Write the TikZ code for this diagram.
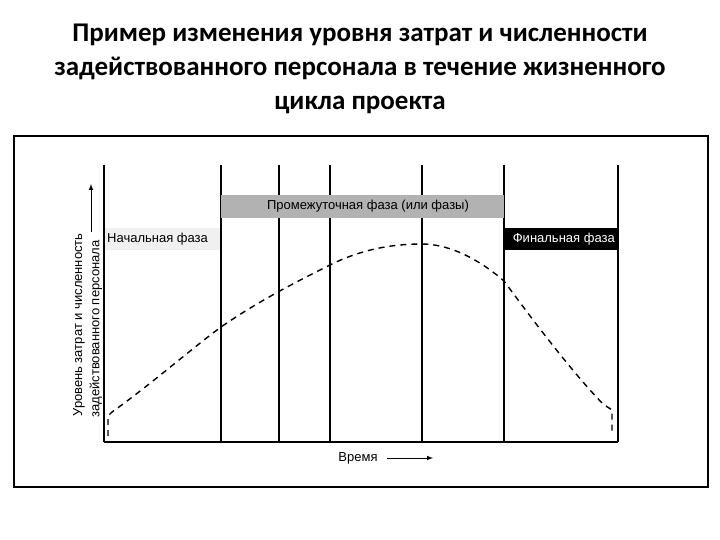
\documentclass[tikz,border=0pt]{standalone}
\usepackage{fontspec}
\setmainfont{Liberation Sans}
\newfontfamily\titlefont{Carlito}
\begin{document}
\begin{tikzpicture}[x=1pt,y=-1pt,
  vline/.style={line width=1.3pt},
  lbl/.style={font=\fontsize{13}{15}\selectfont, inner sep=1pt},
  curve/.style={line width=1.4pt, dash pattern=on 6pt off 5pt}]
\useasboundingbox (0,0) rectangle (720,540);
\node[font=\titlefont\bfseries\fontsize{27}{34}\selectfont, align=center] (title) at (360,69)
 {Пример изменения уровня затрат и численности\\задействованного персонала в течение жизненного\\цикла проекта};
\draw[line width=1.5pt] (14,136) rectangle (708,487);
% lines
\foreach \x/\n in {104/a,221/b,279/c,330/d,422/e,504/f,618/g}
  \draw[vline] (\x,165) coordinate (t\n) -- (\x,442) coordinate (b\n);
\draw[vline] (ba) -- (bg);
% bars
\fill[gray!60] (221,195) rectangle (504,218);
\fill[gray!12] (104.7,228) rectangle (220,250);
\fill[black] (504,228) rectangle (617,250);
\node[lbl] (mid) at (368,206.5) {Промежуточная фаза (или фазы)};
\node[lbl, anchor=west] (nach) at (106,239) {Начальная фаза};
\node[lbl, anchor=east, text=white] (fin) at (616,239) {Финальная фаза};
% curve
\draw[curve] (108,436) -- (108,416) -- (112,412) .. controls (150,385) and (190,350) .. (221,327)
  .. controls (260,300) and (300,280) .. (330,265) .. controls (360,250) and (390,244) .. (422,244)
  .. controls (450,244) and (480,260) .. (504,281) .. controls (540,330) and (575,375) .. (603,404)
  -- (612,410) -- (612,432);
% axes labels
\node[lbl, rotate=90] (y1) at (79,325) {Уровень затрат и численность};
\node[lbl, rotate=90] (y2) at (96,329) {задействованного персонала};
\coordinate (ya) at (91,232); \coordinate (yb) at (91,184);
\draw[line width=1pt,-latex] (ya) -- (yb);
\node[lbl] (time) at (358,458) {Время};
\coordinate (xa) at (387,458); \coordinate (xb) at (433,458);
\draw[line width=1pt,-latex] (xa) -- (xb);
\end{tikzpicture}
\end{document}
